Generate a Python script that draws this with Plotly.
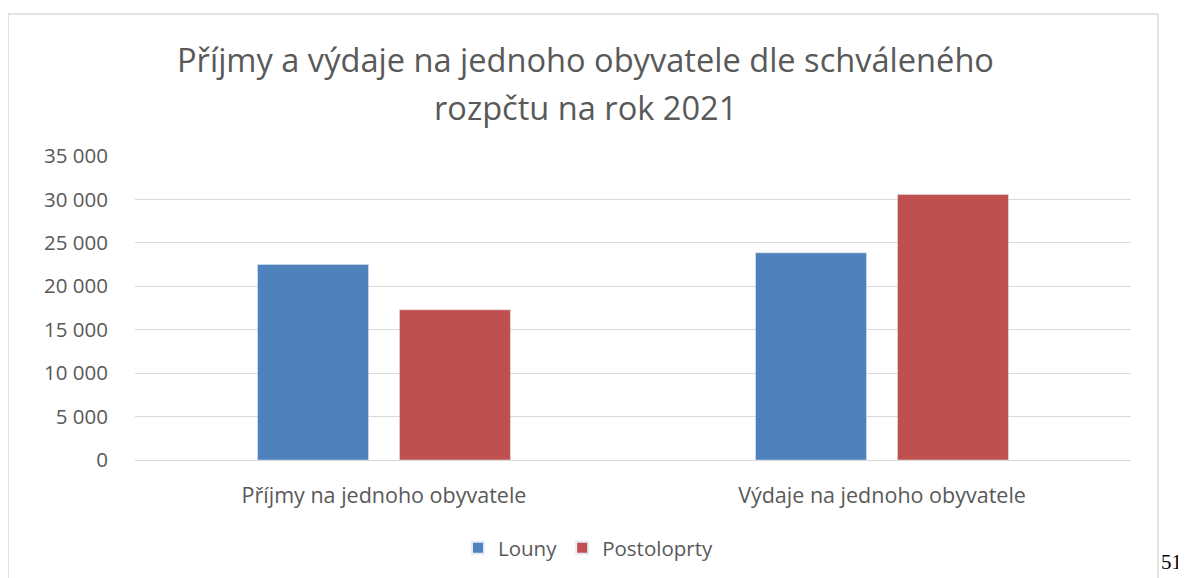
import plotly.graph_objects as go

categories = ["Příjmy na jednoho obyvatele", "Výdaje na jednoho obyvatele"]
louny = [22500, 23850]
postoloprty = [17300, 30580]
series_names = ["Louny", "Postoloprty"]
tick_vals = [0, 5000, 10000, 15000, 20000, 25000, 30000, 35000]
tick_text = ["0", "5 000", "10 000", "15 000", "20 000", "25 000", "30 000", "35 000"]
title_lines = ["Příjmy a výdaje na jednoho obyvatele dle schváleného", "rozpčtu na rok 2021"]

OFF = 8  # page body margin
W, H = 1186 - OFF, 578 - OFF
# target screen positions of plot area
SX0, SX1, SY0, SY1 = 135, 1131, 156, 460
L, T = SX0 - OFF, SY0 - OFF
pw, ph = SX1 - SX0, SY1 - SY0
R, B = W - L - pw, H - T - ph

def px2x(x):
    return (x - SX0) / pw

def px2y(y):
    return (SY1 - y) / ph

FONT = "Open Sans"
GRAY = "#595959"
FS = 21.5

fig = go.Figure()
fig.add_trace(go.Bar(name=series_names[0], x=categories, y=louny, marker_color="#4f81bd"))
fig.add_trace(go.Bar(name=series_names[1], x=categories, y=postoloprty, marker_color="#c0504d"))

fig.update_layout(
    width=W, height=H,
    margin=dict(l=L, r=R, t=T, b=B, autoexpand=False),
    paper_bgcolor="white", plot_bgcolor="white",
    barmode="group", bargap=0.43, bargroupgap=0.218,
    font=dict(family=FONT, color=GRAY, size=FS),
    legend=dict(orientation="h", x=px2x(588), xanchor="center", y=px2y(548), yanchor="middle",
                font=dict(family=FONT, size=20.5, color=GRAY), itemsizing="constant"),
    showlegend=True,
)
fig.update_yaxes(range=[0, 35000], tickvals=tick_vals, ticktext=tick_text,
                 showgrid=True, gridcolor="#d9d9d9", gridwidth=1, zeroline=False,
                 showline=False, ticks="", ticklabelstandoff=26,
                 tickfont=dict(family=FONT, size=20.5, color=GRAY))
fig.update_xaxes(showline=True, linecolor="#d9d9d9", linewidth=1, ticks="outside",
                 ticklen=16, tickcolor="rgba(0,0,0,0)",
                 tickfont=dict(family=FONT, size=FS, color=GRAY))

# title lines
for line, yc in zip(title_lines, [60, 107]):
    fig.add_annotation(text=line, xref="paper", yref="paper", x=px2x(585), y=px2y(yc),
                       xanchor="center", yanchor="middle", showarrow=False,
                       font=dict(family=FONT, size=32.6, color=GRAY))

# chart border
border = "#d9d9d9"
x0, x1, y0, y1 = px2x(8), px2x(1158), px2y(14), px2y(590)
for (a, b, c, d) in [(x0, y0, x1, y0), (x0, y0, x0, y1), (x1, y0, x1, y1)]:
    fig.add_shape(type="line", xref="paper", yref="paper", x0=a, y0=b, x1=c, y1=d,
                  line=dict(color=border, width=1.5))

fig.add_annotation(text="51", xref="paper", yref="paper", x=px2x(1159), y=px2y(562),
                   xanchor="left", yanchor="middle", showarrow=False,
                   font=dict(family="Liberation Serif", size=21, color="black"))

fig.write_html("out.html")
